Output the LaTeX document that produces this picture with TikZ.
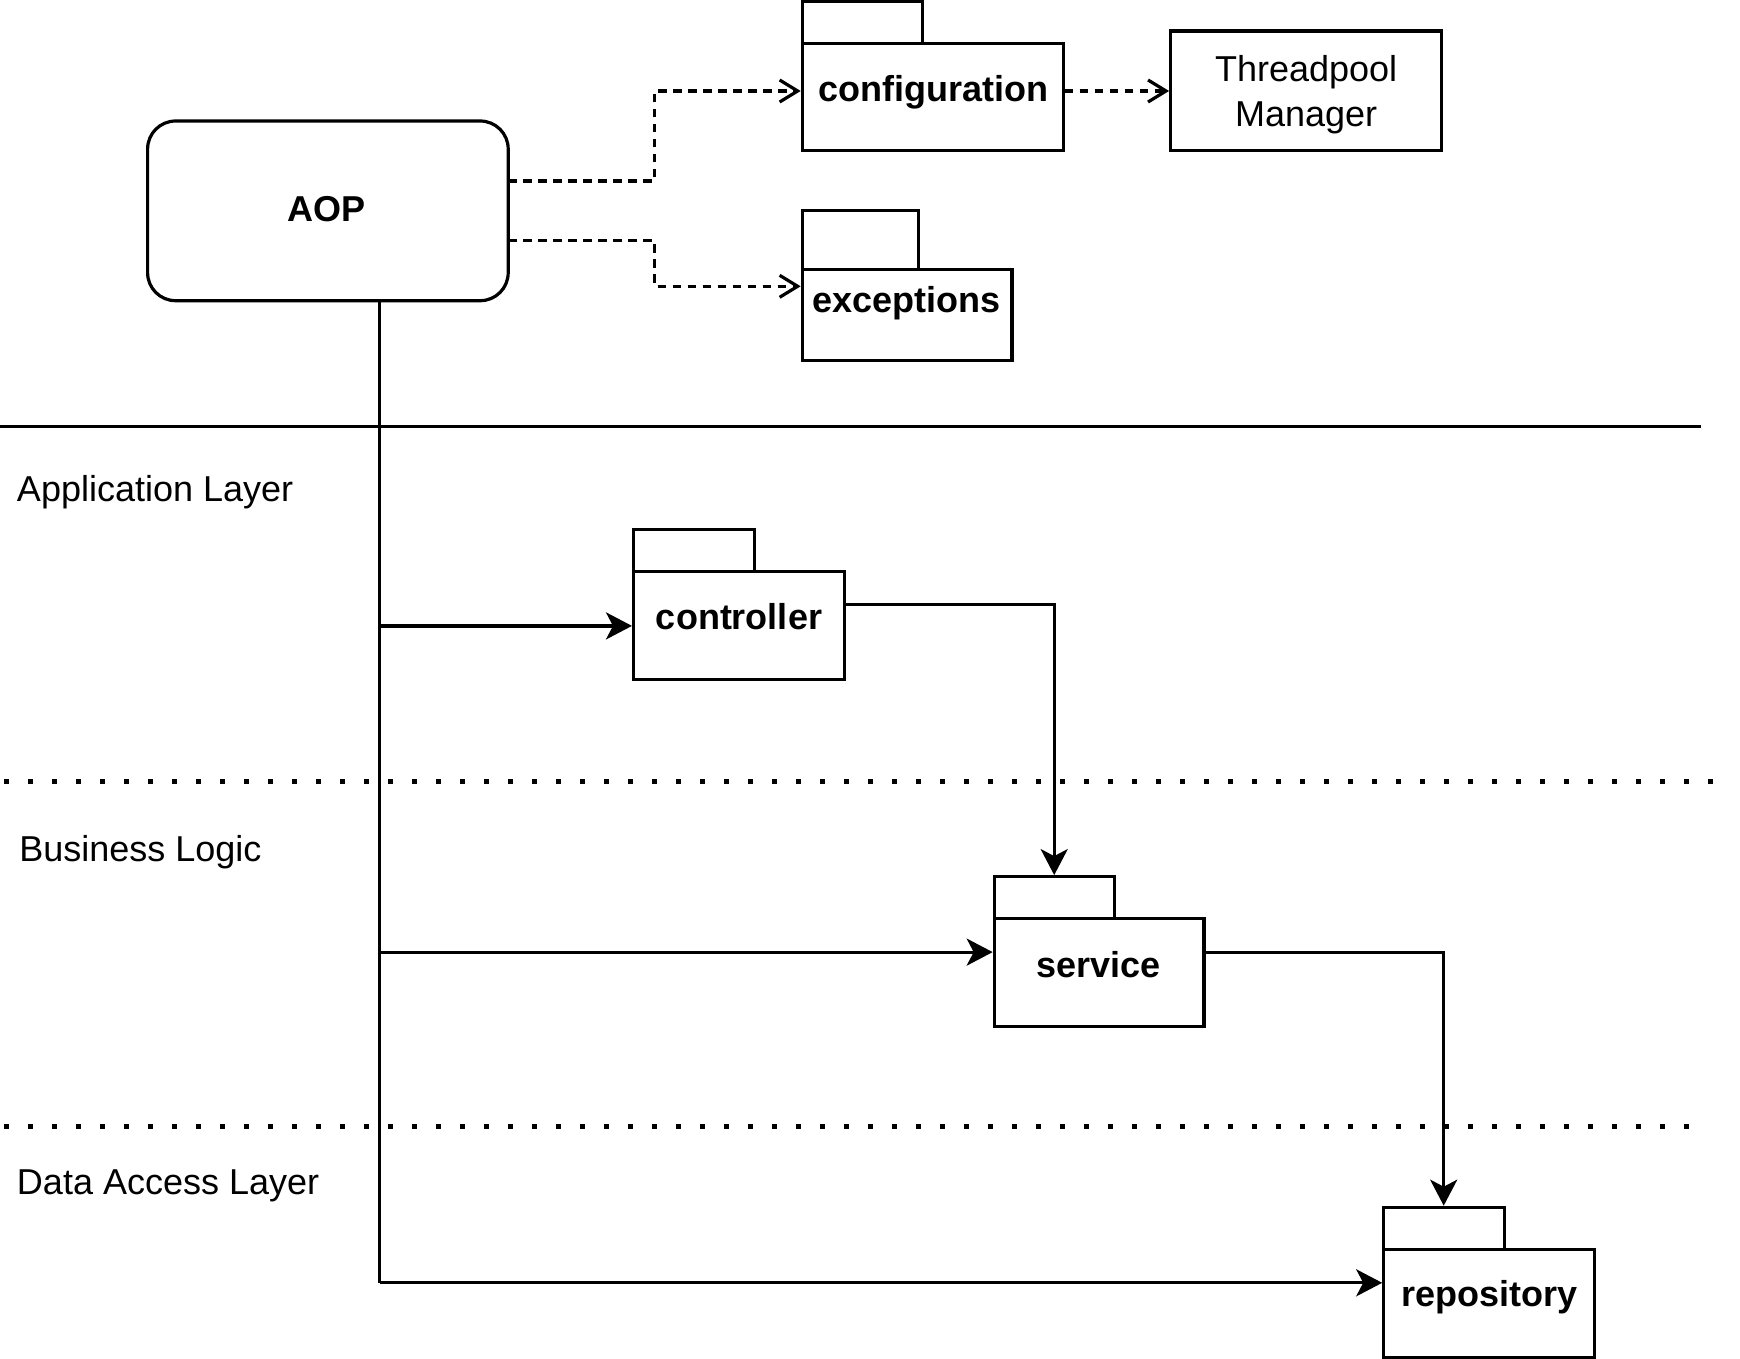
\documentclass[tikz,border=0pt]{standalone}
\usepackage{fontspec}
\setmainfont{Liberation Sans}
\usetikzlibrary{arrows.meta,fit}
\begin{document}
\begin{tikzpicture}[x=0.5pt,y=-0.5pt,
  box/.style={draw, line width=1.6pt, inner sep=0pt},
  txt/.style={font=\fontsize{18}{22.2}\selectfont, inner sep=0pt},
  btxt/.style={font=\fontsize{18}{22.2}\selectfont\bfseries, inner sep=0pt},
  solidarr/.style={line width=1.6pt, -{Stealth[length=13pt,width=13.5pt,inset=3.5pt]}},
  dasharr/.style={line width=1.6pt, dash pattern=on 4.2pt off 3.3pt,
    -{Straight Barb[length=9pt,width=11pt,line width=1.6pt]}},
  sepline/.style={line width=1.6pt},
  dotline/.style={line width=2.7pt, dash pattern=on 2.7pt off 9.3pt}
]
\useasboundingbox (0,0) rectangle (1740,1359);

% AOP component
\node[box, rounded corners=14pt, fit={(147.6,121.0)(508.2,300.7)}] (aop) {};
\node[btxt] (aop-t) at (326.3,209.5) {AOP};

% configuration package
\node[box, fit={(802.3,1.1)(922.2,43.3)}] (conf-tab) {};
\node[box, fit={(802.3,43.3)(1063.1,150.9)}] (conf) {};
\node[btxt] (conf-t) at (933.8,92.0) {configuration};

% Threadpool Manager
\node[box, fit={(1170.7,31.1)(1441.5,150.9)}] (pool) {};
\node[txt, align=center] (pool-t) at (1306.1,94.5) {Threadpool\\Manager};

% exceptions package
\node[box, fit={(802.3,210.8)(918.8,269.7)}] (exc-tab) {};
\node[box, fit={(802.3,269.7)(1012.0,360.7)}] (exc) {};
\node[btxt] (exc-t) at (906.6,303.0) {exceptions};

% controller package
\node[box, fit={(633.6,529.3)(754.6,571.5)}] (ctrl-tab) {};
\node[box, fit={(633.6,571.5)(844.5,679.1)}] (ctrl) {};
\node[btxt] (ctrl-t) at (739.0,616.5) {controller};

% service package
\node[box, fit={(994.3,876.7)(1114.1,918.8)}] (svc-tab) {};
\node[box, fit={(994.3,918.8)(1204.0,1026.5)}] (svc) {};
\node[btxt] (svc-t) at (1098.6,965.0) {service};

% repository package
\node[box, fit={(1383.8,1207.3)(1504.8,1249.5)}] (repo-tab) {};
\node[box, fit={(1383.8,1249.5)(1594.6,1357.2)}] (repo) {};
\node[btxt] (repo-t) at (1489.2,1297.5) {repository};

% layer separators
\coordinate (sep0-l) at (0,426.1);
\coordinate (sep0-r) at (1701.2,426.1);
\coordinate (sep1-l) at (4,781.2);
\coordinate (sep1-r) at (1714.5,781.2);
\coordinate (sep2-l) at (4,1126.3);
\coordinate (sep2-r) at (1692.3,1126.3);
\draw[sepline] (sep0-l) -- (sep0-r);
\draw[dotline] (sep1-l) -- (sep1-r);
\draw[dotline] (sep2-l) -- (sep2-r);

% layer names
\node[txt, anchor=west] (lay-app) at (16.6,492.5) {Application Layer};
\node[txt, anchor=west] (lay-bus) at (18.9,852.0) {Business Logic};
\node[txt, anchor=west] (lay-dat) at (16.6,1186.0) {Data Access Layer};

% dependencies of AOP
\coordinate (a1) at (508.2,180.9);
\coordinate (a2) at (508.2,240.8);
\coordinate (bend) at (654.7,0);
\draw[dasharr] (a1) -- (a1 -| bend) |- (conf.west |- 0,91.0);
\draw[dasharr] (a2) -- (a2 -| bend) |- (exc.west |- 0,286.3);
\draw[dasharr] (conf.east |- 0,91.0) -- (pool.west |- 0,91.0);

% AOP trunk reaching every layer
\coordinate (trunk) at (379.5,1282.8);
\draw[sepline] (aop.south -| trunk) -- (trunk);
\draw[solidarr] (trunk |- 0,625.9) -- (ctrl.west |- 0,625.9);
\draw[solidarr] (trunk |- 0,952.1) -- (svc.west |- 0,952.1);
\draw[solidarr] (trunk) -- (repo.west |- trunk);

% calls between layers
\coordinate (c1) at (1054.2,604.8);
\draw[solidarr] (ctrl.east |- c1) -- (c1) -- (c1 |- svc-tab.north);
\coordinate (c2) at (1443.7,952.1);
\draw[solidarr] (svc.east |- c2) -- (c2) -- (c2 |- repo-tab.north);
\end{tikzpicture}
\end{document}
